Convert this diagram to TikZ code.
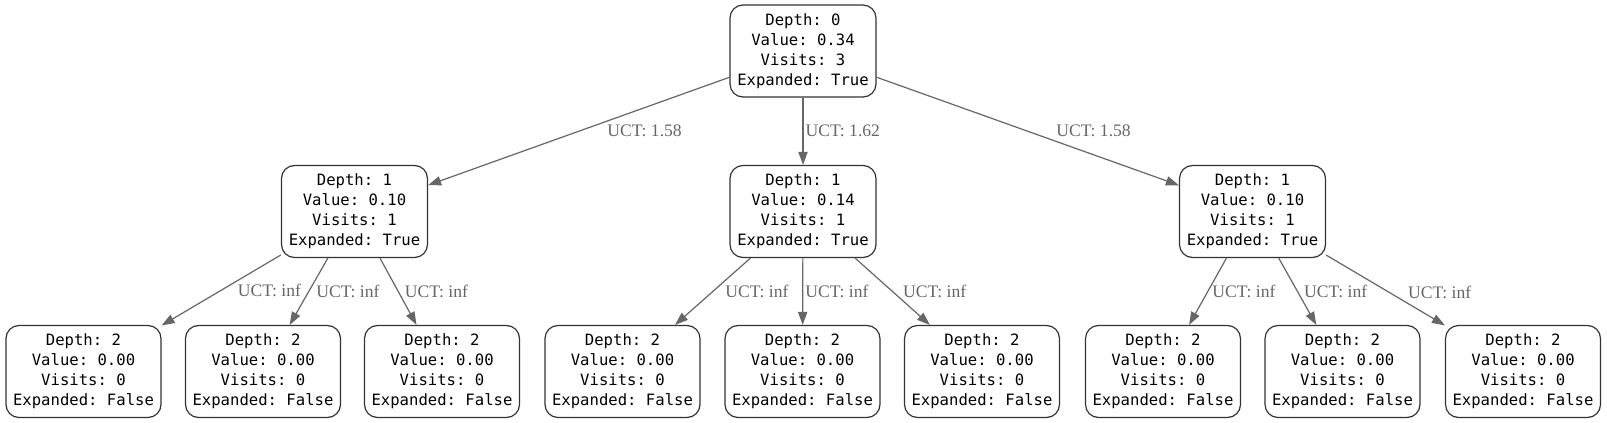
\documentclass[tikz,border=0pt]{standalone}
\usepackage{fontspec}
\setmonofont{DejaVu Sans Mono}
\setmainfont{Liberation Serif}
\usetikzlibrary{arrows.meta}
\definecolor{edgegray}{RGB}{102,102,102}
\definecolor{boxline}{RGB}{51,51,51}
\tikzset{
	state/.style={draw=boxline, line width=0.6pt, rounded corners=6.5pt, align=center,
		minimum width=73pt, minimum height=46pt, inner xsep=2.5pt,
		font=\ttfamily\fontsize{7.8}{10}\selectfont},
	leaf/.style={state, minimum width=77.5pt},
	tree/.style={draw=edgegray, line width=0.6pt, -{Triangle[length=6.5pt,width=4.6pt]}},
	uct/.style={pos=0.5, anchor=west, inner sep=0pt, text=edgegray,
		font=\fontsize{8.8}{10}\selectfont}
}
\begin{document}
\begin{tikzpicture}[x=0.5pt, y=-0.5pt]
	\useasboundingbox (0,0) rectangle (1607,423);
	\node[state](r) at (803,51) {Depth: 0\\Value: 0.34\\Visits: 3\\Expanded: True};
	\node[state](a) at (354.5,211.5) {Depth: 1\\Value: 0.10\\Visits: 1\\Expanded: True};
	\node[state](b) at (803,211.5) {Depth: 1\\Value: 0.14\\Visits: 1\\Expanded: True};
	\node[state](c) at (1252.5,211.5) {Depth: 1\\Value: 0.10\\Visits: 1\\Expanded: True};
	\node[leaf](a1) at (83.5,371.5) {Depth: 2\\Value: 0.00\\Visits: 0\\Expanded: False};
	\node[leaf](a2) at (263,371.5) {Depth: 2\\Value: 0.00\\Visits: 0\\Expanded: False};
	\node[leaf](a3) at (442,371.5) {Depth: 2\\Value: 0.00\\Visits: 0\\Expanded: False};
	\node[leaf](b1) at (622.5,371.5) {Depth: 2\\Value: 0.00\\Visits: 0\\Expanded: False};
	\node[leaf](b2) at (802.5,371.5) {Depth: 2\\Value: 0.00\\Visits: 0\\Expanded: False};
	\node[leaf](b3) at (982,371.5) {Depth: 2\\Value: 0.00\\Visits: 0\\Expanded: False};
	\node[leaf](c1) at (1163,371.5) {Depth: 2\\Value: 0.00\\Visits: 0\\Expanded: False};
	\node[leaf](c2) at (1342.5,371.5) {Depth: 2\\Value: 0.00\\Visits: 0\\Expanded: False};
	\node[leaf](c3) at (1523,371.5) {Depth: 2\\Value: 0.00\\Visits: 0\\Expanded: False};
	\draw[tree](r)--(a)node[uct,xshift=14pt]{UCT: 1.58};
	\draw[tree](r)--(b)node[uct,xshift=1pt]{UCT: 1.62};
	\draw[tree](r)--(c)node[uct,xshift=14pt]{UCT: 1.58};
	\draw[tree](a)--(a1)node[uct,xshift=8pt]{UCT: inf};
	\draw[tree](a)--(a2)node[uct,xshift=3.5pt]{UCT: inf};
	\draw[tree](a)--(a3)node[uct,xshift=3pt]{UCT: inf};
	\draw[tree](b)--(b1)node[uct,xshift=6pt]{UCT: inf};
	\draw[tree](b)--(b2)node[uct,xshift=1pt]{UCT: inf};
	\draw[tree](b)--(b3)node[uct,xshift=5pt]{UCT: inf};
	\draw[tree](c)--(c1)node[uct,xshift=2pt]{UCT: inf};
	\draw[tree](c)--(c2)node[uct,xshift=3pt]{UCT: inf};
	\draw[tree](c)--(c3)node[uct,xshift=11pt,yshift=-1pt]{UCT: inf};
\end{tikzpicture}
\end{document}
